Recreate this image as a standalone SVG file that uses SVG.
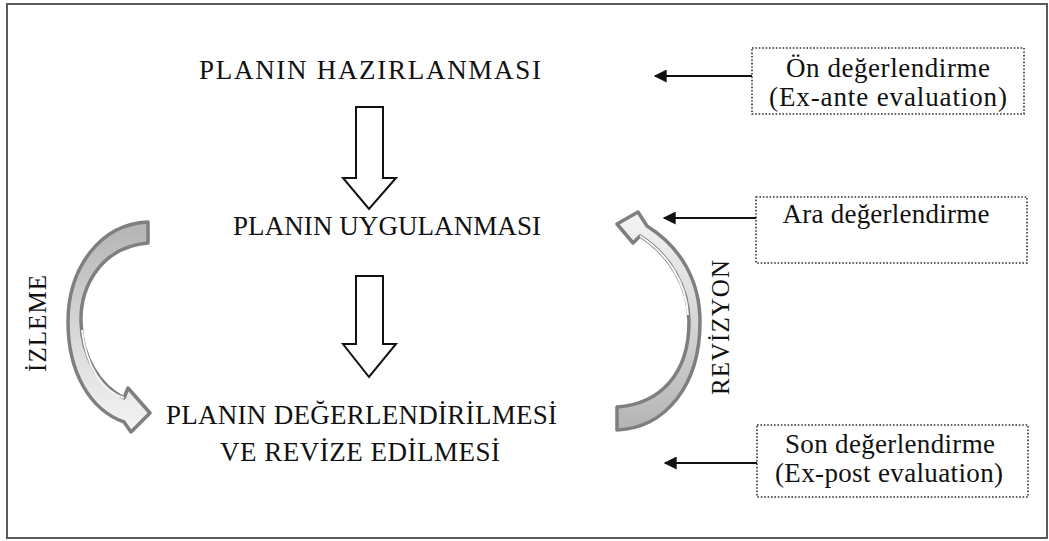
<svg xmlns="http://www.w3.org/2000/svg" width="1049" height="541" viewBox="0 0 1049 541">
  <style>
    .t { font-family: "Liberation Serif", "Times New Roman", serif; fill: #111; }
    .main { font-size: 27px; }
    .box { font-size: 27px; }
    .side { font-size: 25px; }
    .frame { fill: #fff; stroke: #5a5a5a; stroke-width: 2; }
    .dotted { fill: #fff; stroke: #333; stroke-width: 1.6; stroke-dasharray: 1.6 1.8; }
    .block { fill: #fff; stroke: #111; stroke-width: 2; }
    .curve { stroke: #7f7f7f; stroke-width: 3.5; stroke-linejoin: round; }
    .link { stroke: #111; stroke-width: 2; fill: none; marker-end: url(#head); }
  </style>
  <defs>
    <marker id="head" viewBox="0 0 10 10" refX="9" refY="5" markerUnits="userSpaceOnUse" markerWidth="18" markerHeight="13" orient="auto">
      <path d="M0,0 L10,5 L0,10 Z" fill="#111"/>
    </marker>
    <linearGradient id="gDown" x1="0" y1="0" x2="0" y2="1">
      <stop offset="0" stop-color="#b4b4b4"/>
      <stop offset="0.5" stop-color="#d6d6d6"/>
      <stop offset="1" stop-color="#f4f4f4"/>
    </linearGradient>
    <linearGradient id="gUp" x1="0" y1="1" x2="0" y2="0">
      <stop offset="0" stop-color="#b4b4b4"/>
      <stop offset="0.5" stop-color="#d6d6d6"/>
      <stop offset="1" stop-color="#f4f4f4"/>
    </linearGradient>
  </defs>

  <rect class="frame" x="7" y="4" width="1040" height="534"/>

  <!-- stage labels and block arrows -->
  <g id="hazirlama">
    <text class="t main" x="199" y="79" textLength="342" lengthAdjust="spacing">PLANIN HAZIRLANMASI</text>
  </g>
  <g id="uygulama">
    <text class="t main" x="233" y="235" textLength="308" lengthAdjust="spacing">PLANIN UYGULANMASI</text>
  </g>
  <g id="degerlendirme">
    <text class="t main" x="166" y="424" textLength="391" lengthAdjust="spacing">PLANIN DEĞERLENDİRİLMESİ</text>
    <text class="t main" x="220" y="461" textLength="280" lengthAdjust="spacing">VE REVİZE EDİLMESİ</text>
  </g>
  <g id="ok1">
    <path class="block" d="M356,107 H383 V178 H396 L369,209 L343,178 H356 Z"/>
  </g>
  <g id="ok2">
    <path class="block" d="M356,276 H383 V344 H396 L369,377 L343,344 H356 Z"/>
  </g>

  <!-- monitoring / revision loops -->
  <g id="izleme">
    <path class="curve" fill="url(#gDown)" d="M148,222 L148,243 C100,247 80,288 81,322 C82,358 100,386 124,398 L128,388 L150,413 L131,432 L124,422 C90,410 68,372 68,322 C68,268 100,224 148,222 Z"/>
    <path d="M82,330 C86,368 104,392 124,398" fill="none" stroke="#f7f7f7" stroke-width="2"/>
    <text class="t side" transform="translate(46,372) rotate(-90)" textLength="97" lengthAdjust="spacing">İZLEME</text>
  </g>
  <g id="revizyon">
    <path class="curve" fill="url(#gUp)" d="M617,407 L617,430 C665,428 700,386 700,322 C700,282 682,248 647,226 L638,212 L617,224 L633,243 L640,236 C670,255 689,287 689,322 C689,374 660,404 617,407 Z"/>
    <path d="M688,315 C686,282 668,254 640,236" fill="none" stroke="#fafafa" stroke-width="2"/>
    <text class="t side" transform="translate(729,395) rotate(-90)" textLength="135" lengthAdjust="spacing">REVİZYON</text>
  </g>

  <!-- evaluation boxes -->
  <g id="on-degerlendirme">
    <rect class="dotted" x="752" y="48" width="272" height="66"/>
    <text class="t box" x="888" y="77" text-anchor="middle" textLength="204" lengthAdjust="spacing">Ön değerlendirme</text>
    <text class="t box" x="888" y="106" text-anchor="middle" textLength="238" lengthAdjust="spacing">(Ex-ante evaluation)</text>
  </g>
  <g id="ara-degerlendirme">
    <rect class="dotted" x="756" y="197" width="271" height="66"/>
    <text class="t box" x="886" y="223" text-anchor="middle" textLength="207" lengthAdjust="spacing">Ara değerlendirme</text>
  </g>
  <g id="son-degerlendirme">
    <rect class="dotted" x="757" y="425" width="271" height="72"/>
    <text class="t box" x="890" y="453" text-anchor="middle" textLength="210" lengthAdjust="spacing">Son değerlendirme</text>
    <text class="t box" x="889" y="482" text-anchor="middle" textLength="228" lengthAdjust="spacing">(Ex-post evaluation)</text>
  </g>

  <!-- connectors -->
  <g id="connectors">
    <line class="link" x1="752" y1="76" x2="655" y2="76"/>
    <line class="link" x1="756" y1="218" x2="664" y2="218"/>
    <line class="link" x1="757" y1="463" x2="665" y2="463"/>
  </g>
</svg>
